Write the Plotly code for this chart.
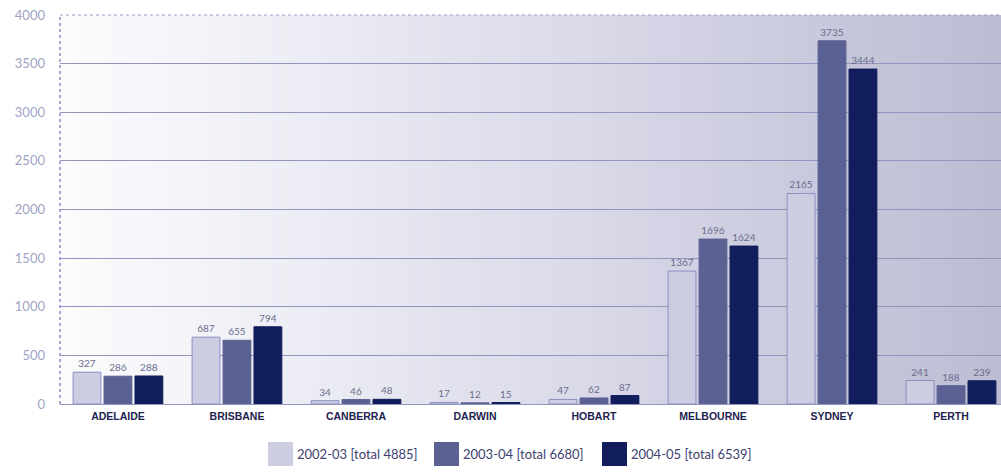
import plotly.graph_objects as go

# Cities and yearly counts
cities = ["ADELAIDE", "BRISBANE", "CANBERRA", "DARWIN", "HOBART", "MELBOURNE", "SYDNEY", "PERTH"]
years = ["2002-03", "2003-04", "2004-05"]
v_2002 = [327, 687, 34, 17, 47, 1367, 2165, 241]
v_2003 = [286, 655, 46, 12, 62, 1696, 3735, 188]
v_2004 = [288, 794, 48, 15, 87, 1624, 3444, 239]
series = [v_2002, v_2003, v_2004]
colors = ["#cdcde2", "#5b6193", "#111d5c"]
outlines = ["#8a90c2", "#5b6193", "#111d5c"]

W, H = 1001, 472
L, R, T, B = 60, 0, 15, 68
PW, PH = W - L - R, H - T - B


def px_x(p):
    return (p - L) / PW


def px_y(p):
    return (H - B - p) / PH


fig = go.Figure()
for name, vals, col, oc in zip(years, series, colors, outlines):
    fig.add_trace(go.Bar(
        x=list(range(len(cities))), y=vals, name=name,
        marker=dict(color=col, line=dict(width=1, color=oc)),
        text=[str(v) for v in vals], textposition="outside",
        textfont=dict(size=10, color="#6a6d8c", family="Lato"),
        cliponaxis=False, showlegend=False,
    ))

# Horizontal gradient backdrop (white to lavender grey)
stops = [(0.0, (252, 252, 254)), (0.3, (234, 234, 243)), (0.6, (214, 214, 231)), (1.0, (188, 188, 211))]


def grad(t):
    for (a, ca), (b, cb) in zip(stops[:-1], stops[1:]):
        if a <= t <= b:
            f = (t - a) / (b - a)
            return tuple(round(ca[i] + (cb[i] - ca[i]) * f) for i in range(3))
    return stops[-1][1]


shapes = []
N = 90
for i in range(N):
    x0, x1 = i / N, (i + 1) / N
    c = grad((x0 + x1) / 2)
    shapes.append(dict(type="rect", xref="x domain", yref="y domain", x0=x0, x1=x1 + 0.002,
                       y0=0, y1=1, fillcolor="rgb(%d,%d,%d)" % c, line=dict(width=0), layer="below"))

# Dotted top border and left axis
shapes.append(dict(type="line", xref="x domain", yref="y domain", x0=0, x1=1, y0=1, y1=1,
                   line=dict(color="#9aa0c8", width=1.2, dash="dot")))
shapes.append(dict(type="line", xref="x domain", yref="y domain", x0=0, x1=0, y0=0, y1=1,
                   line=dict(color="#8a90c0", width=1.5, dash="dot")))

# Legend drawn as swatches with text; totals summed from the series
annotations = []
legend_x = [268, 434, 602]
for name, vals, col, lx in zip(years, series, colors, legend_x):
    shapes.append(dict(type="rect", xref="paper", yref="paper",
                       x0=px_x(lx), x1=px_x(lx + 25), y0=px_y(466), y1=px_y(442),
                       fillcolor=col, line=dict(width=0)))
    annotations.append(dict(xref="paper", yref="paper", x=px_x(lx + 27), y=px_y(454),
                            xanchor="left", yanchor="middle", showarrow=False,
                            text="%s [total %d]" % (name, sum(vals)),
                            font=dict(size=13, color="#3d4270", family="Lato")))

fig.update_layout(
    width=W, height=H,
    margin=dict(l=L, r=R, t=T, b=B),
    paper_bgcolor="white", plot_bgcolor="white",
    barmode="group", bargap=0.22, bargroupgap=0.1,
    shapes=shapes, annotations=annotations,
    xaxis=dict(
        tickmode="array", tickvals=list(range(len(cities))), ticktext=cities,
        range=[-0.487, 7.42], showgrid=False, zeroline=False, showline=False,
        tickfont=dict(size=10.5, color="#1d2350", family="Liberation Sans", weight="bold"),
        ticks="", ticklabelstandoff=4,
    ),
    yaxis=dict(
        range=[0, 4000], dtick=500, showgrid=True, gridcolor="#9095bd", gridwidth=1,
        zeroline=True, zerolinecolor="#9095bd", zerolinewidth=1, showline=False,
        tickfont=dict(size=13, color="#a0a4c4", family="Lato"),
        ticks="", ticklabelstandoff=14,
    ),
)

fig.write_html("out.html")
